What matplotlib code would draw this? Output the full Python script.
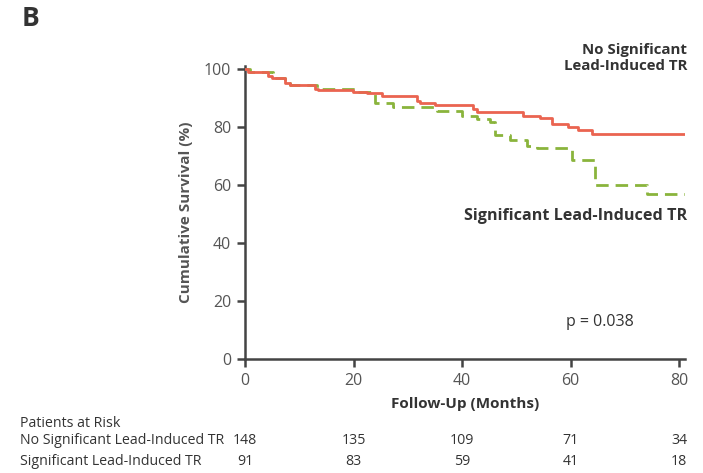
import matplotlib
matplotlib.use("Agg")
import matplotlib.pyplot as plt

plt.rcParams['font.family'] = ['Open Sans', 'DejaVu Sans']

# Kaplan-Meier step curves: (event time in months, survival % after the step)
no_sig_times = [0, 0.6, 4.2, 5.0, 7.4, 8.3, 12.9, 13.5, 19.9, 22.5, 25.3, 31.7,
                32.3, 35.0, 42.0, 42.8, 51.2, 54.4, 56.6, 59.5, 61.4, 64.0, 81.1]
no_sig_surv = [100, 99.0, 97.9, 96.9, 95.5, 94.8, 93.4, 92.8, 92.1, 92.0, 90.7, 89.0,
               88.3, 87.6, 86.2, 85.2, 84.1, 83.1, 81.0, 80.0, 79.0, 77.6, 77.6]

sig_times = [0, 1.0, 5.2, 7.4, 8.3, 13.3, 20.5, 24.0, 27.3, 35.4, 40.0, 42.8, 45.2,
             46.1, 48.8, 52.0, 53.8, 60.3, 64.5, 74.1, 81.1]
sig_surv = [100, 99.0, 96.9, 95.5, 94.8, 93.2, 92.1, 88.3, 87.2, 85.5, 84.1, 82.8, 81.7,
            77.2, 75.5, 73.4, 72.8, 68.6, 60.0, 56.9, 56.9]

x_ticks = [0, 20, 40, 60, 80]
y_ticks = [0, 20, 40, 60, 80, 100]
risk_no_sig = [148, 135, 109, 71, 34]
risk_sig = [91, 83, 59, 41, 18]

label_no_sig = "No Significant Lead-Induced TR"
label_sig = "Significant Lead-Induced TR"

RED = "#EA6450"
GREEN = "#8AB43C"
AXIS = "#444444"
TEXT = "#333333"

fig = plt.figure(figsize=(7.03, 4.73), dpi=100)
ax = fig.add_axes([245 / 703, 1 - 359 / 473, 440 / 703, 293 / 473])

ax.step(no_sig_times, no_sig_surv, where="post", color=RED, lw=2.0, zorder=3)
ax.step(sig_times, sig_surv, where="post", color=GREEN, lw=2.0,
        linestyle=(0, (4.5, 2.5)), zorder=2)

ax.set_xlim(0, 81.1)
ax.set_ylim(0, 101.2)
ax.set_xticks(x_ticks)
ax.set_yticks(y_ticks)
ax.tick_params(direction="out", length=6, width=1.8, color=AXIS,
               labelsize=11.5, labelcolor="#555555", pad=4)
for side in ("top", "right"):
    ax.spines[side].set_visible(False)
for side in ("left", "bottom"):
    ax.spines[side].set_color(AXIS)
    ax.spines[side].set_linewidth(1.8)

ax.set_ylabel("Cumulative Survival (%)", fontsize=11, fontweight="bold",
              color="#555555", labelpad=8)
ax.set_xlabel("Follow-Up (Months)", fontsize=11, fontweight="bold",
              color=TEXT, labelpad=6)

# Curve annotations
ax.text(81.5, 104, "No Significant\nLead-Induced TR", ha="right", va="center",
        fontsize=10.8, fontweight="bold", color=TEXT, linespacing=1.2,
        clip_on=False)
ax.text(81.5, 49.5, label_sig, ha="right", va="center", fontsize=11.6,
        fontweight="bold", color=TEXT)
ax.text(65.5, 12.8, "p = 0.038", ha="center", va="center", fontsize=11.5,
        color=TEXT)

fig.text(22 / 703, 1 - 18 / 473, "B", fontsize=19, fontweight="bold",
         color=TEXT, ha="left", va="center")

# Patients-at-risk table
trans = ax.get_xaxis_transform()
fig.text(20 / 703, 1 - 423 / 473, "Patients at Risk", fontsize=10.2,
         color=TEXT, va="center", ha="left")
fig.text(20 / 703, 1 - 440 / 473, label_no_sig, fontsize=10.2,
         color=TEXT, va="center", ha="left")
fig.text(20 / 703, 1 - 461 / 473, label_sig, fontsize=10.2,
         color=TEXT, va="center", ha="left")
y_row1 = (359 - 440) / 293
y_row2 = (359 - 461) / 293
for xv, n1, n2 in zip(x_ticks, risk_no_sig, risk_sig):
    ax.text(xv, y_row1, str(n1), transform=trans, ha="center", va="center",
            fontsize=10.2, color=TEXT, clip_on=False)
    ax.text(xv, y_row2, str(n2), transform=trans, ha="center", va="center",
            fontsize=10.2, color=TEXT, clip_on=False)

fig.savefig("out.png", dpi=100, facecolor="white")
